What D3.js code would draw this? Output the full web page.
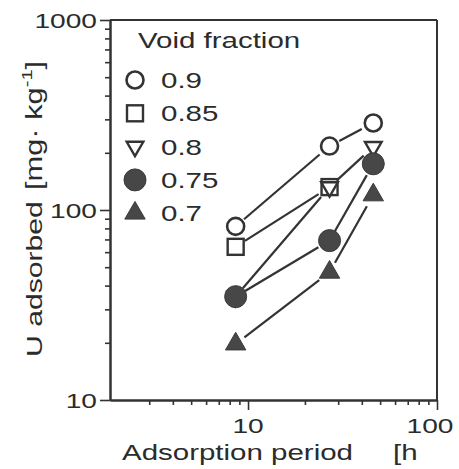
<!DOCTYPE html>
<html>
<head>
<meta charset="utf-8">
<script src="https://cdn.jsdelivr.net/npm/d3@7"></script>
<style>
  html, body { margin: 0; padding: 0; background: #fff; }
  svg { display: block; }
  text { font-family: "Liberation Sans", Arial, Helvetica, sans-serif; fill: #2b2b2b; }
</style>
</head>
<body>
<svg id="chart" width="459" height="469"></svg>
<script>
// Adsorption period [h] for each measurement
const periods = [8.6, 27, 46];

// U adsorbed [mg/kg] per void fraction (null = not measured)
const voidFractions = ["0.9", "0.85", "0.8", "0.75", "0.7"];
const u_09  = [82, 217, 287];
const u_085 = [64, 132, null];
const u_08  = [35, 132, 215];
const u_075 = [35, 69, 175];
const u_07  = [19.7, 47, 120];

const markerTypes = ["circleOpen", "squareOpen", "triDownOpen", "circleFilled", "triUpFilled"];

// axis ticks
const xMajorTicks = [10, 100];
const xMinorTicks = [3, 4, 5, 6, 7, 8, 9, 20, 30, 40, 50, 60, 70, 80, 90];
const yMajorTicks = [10, 100, 1000];
const yMinorTicks = [20, 30, 40, 50, 60, 70, 80, 90, 200, 300, 400, 500, 600, 700, 800, 900];

const seriesValues = [u_09, u_085, u_08, u_075, u_07];

const svg = d3.select("#chart");
const ink = "#333";
const STRETCH = 1.34;

const x = d3.scaleLog().domain([1.86, 100]).range([110, 437]);
const y = d3.scaleLog().domain([10, 1000]).range([400, 20]);

// text with the wide, horizontally stretched lettering
function wideText(parent, px, py, str, anchor, size, rotate) {
  const t = parent.append("text")
    .attr("transform", `translate(${px},${py})${rotate ? " rotate(" + rotate + ")" : ""} scale(${STRETCH},1)`)
    .attr("text-anchor", anchor)
    .attr("font-size", size);
  if (str !== null) t.text(str);
  return t;
}

// frame: top and right edges
svg.append("line").attr("x1", x.range()[0]).attr("x2", x.range()[1])
  .attr("y1", y.range()[1]).attr("y2", y.range()[1])
  .attr("stroke", ink).attr("stroke-width", 2);
svg.append("line").attr("x1", x.range()[1]).attr("x2", x.range()[1])
  .attr("y1", y.range()[1]).attr("y2", y.range()[0])
  .attr("stroke", ink).attr("stroke-width", 2);

// axes (ticks only, labels drawn separately)
function drawAxis(axis, tf) {
  const g = svg.append("g").attr("transform", tf).call(axis);
  g.selectAll("text").remove();
  g.select(".domain").attr("stroke", ink).attr("stroke-width", 2);
  g.selectAll(".tick line").attr("stroke", ink).attr("stroke-width", 1.6);
  return g;
}
drawAxis(d3.axisBottom(x).tickValues(xMinorTicks).tickSize(5).tickSizeOuter(0), `translate(0,${y.range()[0]})`);
drawAxis(d3.axisBottom(x).tickValues(xMajorTicks).tickSize(10).tickSizeOuter(0), `translate(0,${y.range()[0]})`);
drawAxis(d3.axisLeft(y).tickValues(yMinorTicks).tickSize(5).tickSizeOuter(0), `translate(${x.range()[0]},0)`);
drawAxis(d3.axisLeft(y).tickValues(yMajorTicks).tickSize(10).tickSizeOuter(0), `translate(${x.range()[0]},0)`);

// tick labels
yMajorTicks.forEach(v => wideText(svg, 97, y(v) + 8, String(v), "end", 21));
xMajorTicks.forEach((v, i) => wideText(svg, x(v) + (i === xMajorTicks.length - 1 ? -7 : 0), 433, String(v), "middle", 21));

// axis titles
wideText(svg, 122, 460, "Adsorption period", "start", 22);
wideText(svg, 393, 460, "[h", "start", 22);
wideText(svg, 42, 357, "U adsorbed", "start", 22.5, -90);
const yt = wideText(svg, 42, 190, null, "start", 23, -90);
yt.append("tspan").text("[mg\u00B7\u00A0kg");
yt.append("tspan").attr("dy", -10).attr("font-size", 15).text("-1");
yt.append("tspan").attr("dy", 10).text("]");

// marker drawing
function marker(parent, type, cx, cy) {
  const sym = d3.symbol();
  let p;
  if (type === "circleOpen") {
    p = parent.append("circle").attr("r", 8.5).attr("fill", "#fff").attr("stroke", ink).attr("stroke-width", 2.6);
  } else if (type === "squareOpen") {
    p = parent.append("rect").attr("x", -8).attr("y", -8).attr("width", 16).attr("height", 16)
      .attr("fill", "#fff").attr("stroke", ink).attr("stroke-width", 2.4);
  } else if (type === "triDownOpen") {
    p = parent.append("path").attr("d", sym.type(d3.symbolTriangle).size(120)())
      .attr("fill", "#fff").attr("stroke", ink).attr("stroke-width", 2.4);
    p.attr("transform", `translate(${cx},${cy}) rotate(180)`);
    return p;
  } else if (type === "circleFilled") {
    p = parent.append("circle").attr("r", 11).attr("fill", "#474747").attr("stroke", "#3a3a3a").attr("stroke-width", 1);
  } else {
    p = parent.append("path").attr("d", sym.type(d3.symbolTriangle).size(180)())
      .attr("fill", "#474747").attr("stroke", "#3a3a3a").attr("stroke-width", 1);
  }
  p.attr("transform", `translate(${cx},${cy})`);
  return p;
}

// connecting lines, pulled back from the markers
const gapStart = 11, gapEnd = 13;
const lineGroup = svg.append("g");
seriesValues.forEach(vals => {
  const pts = periods.map((t, i) => vals[i] == null ? null : [x(t), y(vals[i])]).filter(d => d);
  for (let i = 0; i < pts.length - 1; i++) {
    const [x0, y0] = pts[i], [x1, y1] = pts[i + 1];
    const len = Math.hypot(x1 - x0, y1 - y0);
    const ux = (x1 - x0) / len, uy = (y1 - y0) / len;
    lineGroup.append("line")
      .attr("x1", x0 + ux * gapStart).attr("y1", y0 + uy * gapStart)
      .attr("x2", x1 - ux * gapEnd).attr("y2", y1 - uy * gapEnd)
      .attr("stroke", ink).attr("stroke-width", 2.2);
  }
});

// markers
const markerGroup = svg.append("g");
seriesValues.forEach((vals, s) => {
  periods.forEach((t, i) => {
    if (vals[i] == null) return;
    marker(markerGroup, markerTypes[s], x(t), y(vals[i]));
  });
});

// legend
const legend = svg.append("g");
wideText(legend, 138, 48, "Void fraction", "start", 22);
voidFractions.forEach((lab, i) => {
  const cy = 80 + i * 33.3;
  marker(legend, markerTypes[i], 135, cy);
  wideText(legend, 161, cy + 8, lab, "start", 22);
});
</script>
</body>
</html>
